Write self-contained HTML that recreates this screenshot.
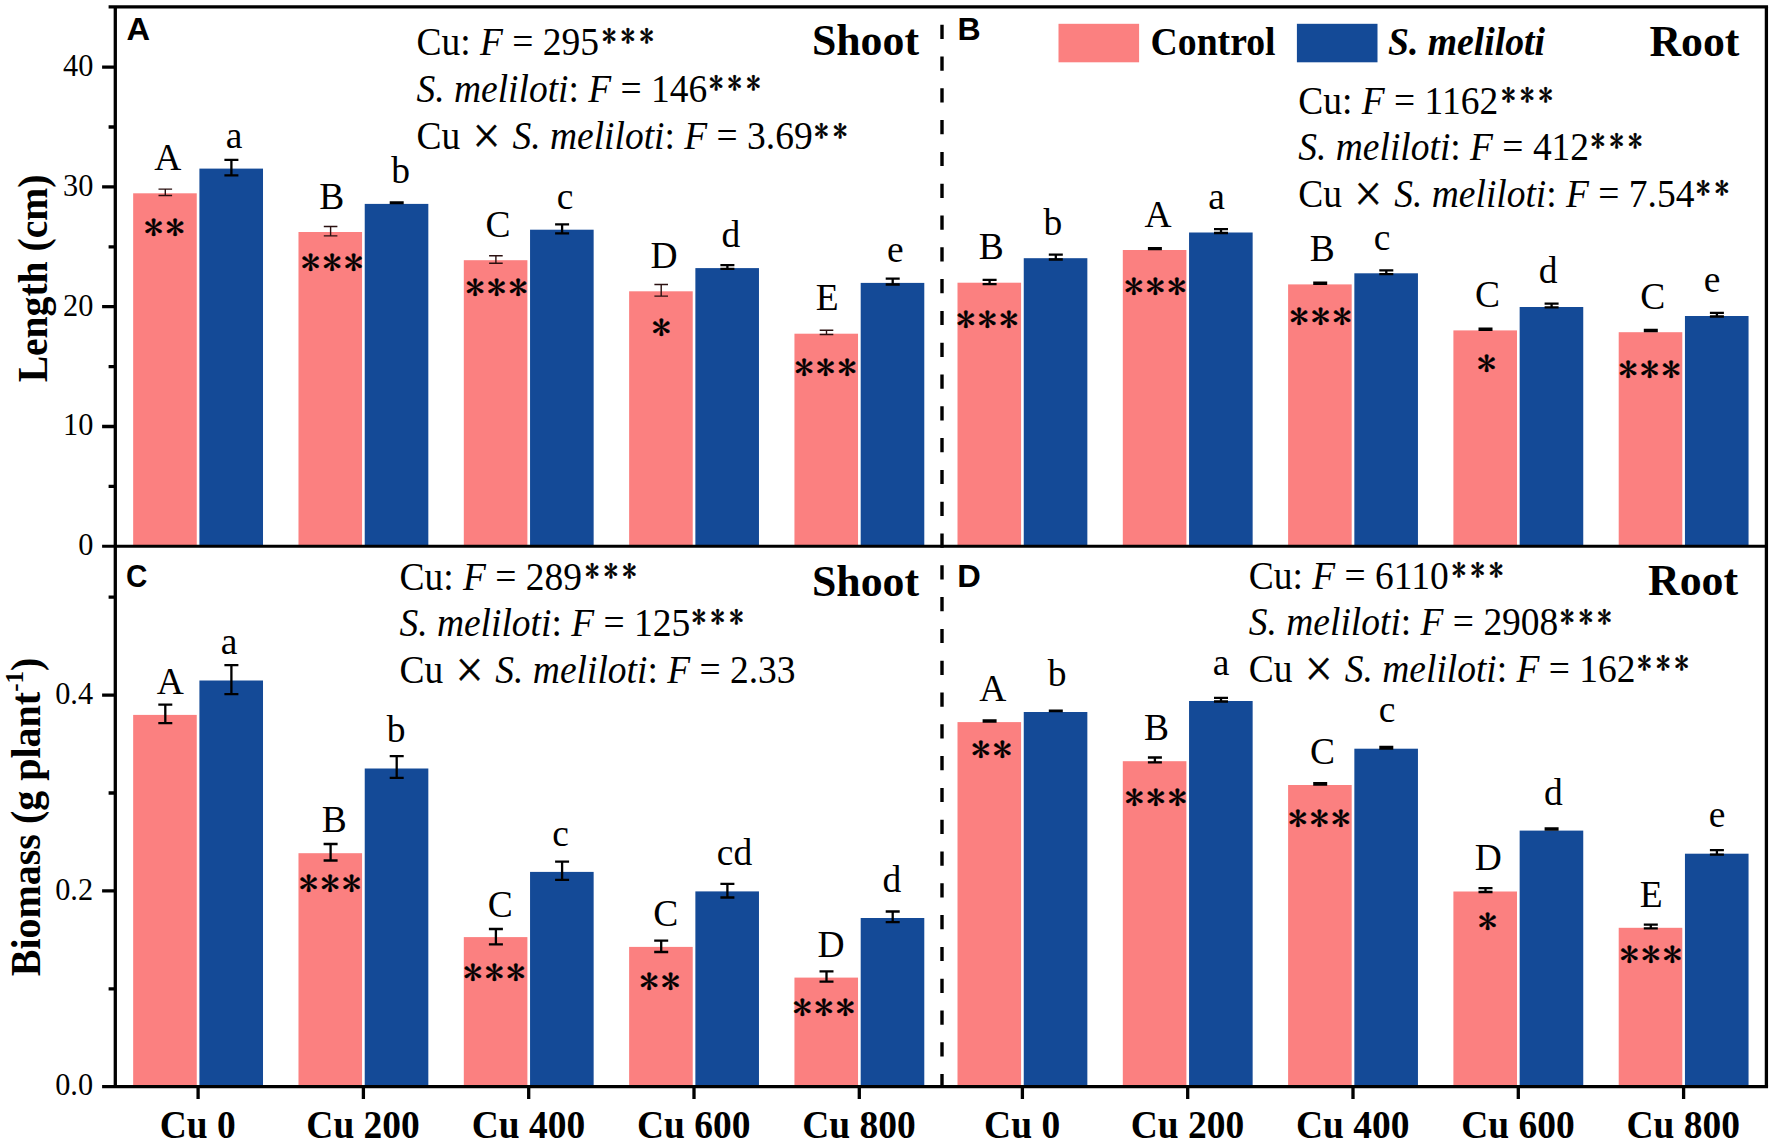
<!DOCTYPE html>
<html lang="en"><head><meta charset="utf-8"><title>Figure</title>
<style>html,body{margin:0;padding:0;background:#fff}svg{display:block}</style></head>
<body>
<svg width="1772" height="1145" viewBox="0 0 1772 1145">
<rect width="1772" height="1145" fill="#fff"/>
<rect x="133.16" y="193.3" width="63.6" height="353.0" fill="#FB8080"/>
<rect x="199.41" y="168.6" width="63.6" height="377.7" fill="#144A97"/>
<rect x="298.48" y="232.0" width="63.6" height="314.3" fill="#FB8080"/>
<rect x="364.73" y="203.9" width="63.6" height="342.4" fill="#144A97"/>
<rect x="463.80" y="260.2" width="63.6" height="286.1" fill="#FB8080"/>
<rect x="530.05" y="229.7" width="63.6" height="316.6" fill="#144A97"/>
<rect x="629.12" y="291.3" width="63.6" height="255.0" fill="#FB8080"/>
<rect x="695.37" y="268.1" width="63.6" height="278.2" fill="#144A97"/>
<rect x="794.44" y="333.7" width="63.6" height="212.6" fill="#FB8080"/>
<rect x="860.69" y="282.9" width="63.6" height="263.4" fill="#144A97"/>
<rect x="957.50" y="282.7" width="63.6" height="263.6" fill="#FB8080"/>
<rect x="1023.75" y="258.2" width="63.6" height="288.1" fill="#144A97"/>
<rect x="1122.80" y="250.0" width="63.6" height="296.3" fill="#FB8080"/>
<rect x="1189.05" y="232.5" width="63.6" height="313.8" fill="#144A97"/>
<rect x="1288.10" y="284.4" width="63.6" height="261.9" fill="#FB8080"/>
<rect x="1354.35" y="273.3" width="63.6" height="273.0" fill="#144A97"/>
<rect x="1453.40" y="330.4" width="63.6" height="215.9" fill="#FB8080"/>
<rect x="1519.65" y="307.0" width="63.6" height="239.3" fill="#144A97"/>
<rect x="1618.70" y="332.2" width="63.6" height="214.1" fill="#FB8080"/>
<rect x="1684.95" y="316.0" width="63.6" height="230.3" fill="#144A97"/>
<path d="M158.5 189.1H172.1M158.5 195.5H172.1M165.3 189.1V195.5" stroke="#2a1010" stroke-width="1.4" fill="none"/>
<path d="M224.4 159.9H238.4M224.4 175.4H238.4M231.4 159.9V175.4" stroke="#000" stroke-width="2.3" fill="none"/>
<path d="M323.8 226.5H337.4M323.8 235.9H337.4M330.6 226.5V235.9" stroke="#2a1010" stroke-width="1.4" fill="none"/>
<path d="M389.7 202.5H403.7M389.7 203.0H403.7M396.7 202.5V203.0" stroke="#000" stroke-width="2.3" fill="none"/>
<path d="M489.1 255.7H502.7M489.1 263.2H502.7M495.9 255.7V263.2" stroke="#2a1010" stroke-width="1.4" fill="none"/>
<path d="M555.1 224.4H569.1M555.1 233.4H569.1M562.1 224.4V233.4" stroke="#000" stroke-width="2.3" fill="none"/>
<path d="M654.4 284.5H668.0M654.4 296.1H668.0M661.2 284.5V296.1" stroke="#2a1010" stroke-width="1.4" fill="none"/>
<path d="M720.4 265.2H734.4M720.4 268.8H734.4M727.4 265.2V268.8" stroke="#000" stroke-width="2.3" fill="none"/>
<path d="M819.7 330.3H833.3M819.7 334.5H833.3M826.5 330.3V334.5" stroke="#2a1010" stroke-width="1.4" fill="none"/>
<path d="M885.7 278.7H899.7M885.7 284.5H899.7M892.7 278.7V284.5" stroke="#000" stroke-width="2.3" fill="none"/>
<path d="M982.6 279.8H996.6M982.6 284.1H996.6M989.6 279.8V284.1" stroke="#000" stroke-width="2.3" fill="none"/>
<path d="M1048.8 254.6H1062.8M1048.8 259.5H1062.8M1055.8 254.6V259.5" stroke="#000" stroke-width="2.3" fill="none"/>
<path d="M1147.9 248.2H1161.9M1147.9 249.0H1161.9M1154.9 248.2V249.0" stroke="#000" stroke-width="2.3" fill="none"/>
<path d="M1214.0 229.1H1228.0M1214.0 233.0H1228.0M1221.0 229.1V233.0" stroke="#000" stroke-width="2.3" fill="none"/>
<path d="M1313.2 282.6H1327.2M1313.2 283.8H1327.2M1320.2 282.6V283.8" stroke="#000" stroke-width="2.3" fill="none"/>
<path d="M1379.3 270.4H1393.3M1379.3 274.2H1393.3M1386.3 270.4V274.2" stroke="#000" stroke-width="2.3" fill="none"/>
<path d="M1478.5 328.6H1492.5M1478.5 329.8H1492.5M1485.5 328.6V329.8" stroke="#000" stroke-width="2.3" fill="none"/>
<path d="M1544.6 303.7H1558.6M1544.6 307.3H1558.6M1551.6 303.7V307.3" stroke="#000" stroke-width="2.3" fill="none"/>
<path d="M1643.8 329.9H1657.8M1643.8 331.2H1657.8M1650.8 329.9V331.2" stroke="#000" stroke-width="2.3" fill="none"/>
<path d="M1709.9 312.9H1723.9M1709.9 316.5H1723.9M1716.9 312.9V316.5" stroke="#000" stroke-width="2.3" fill="none"/>
<rect x="133.16" y="714.9" width="63.6" height="371.8" fill="#FB8080"/>
<rect x="199.41" y="680.5" width="63.6" height="406.2" fill="#144A97"/>
<rect x="298.48" y="853.2" width="63.6" height="233.5" fill="#FB8080"/>
<rect x="364.73" y="768.5" width="63.6" height="318.2" fill="#144A97"/>
<rect x="463.80" y="937.1" width="63.6" height="149.6" fill="#FB8080"/>
<rect x="530.05" y="871.9" width="63.6" height="214.8" fill="#144A97"/>
<rect x="629.12" y="946.9" width="63.6" height="139.8" fill="#FB8080"/>
<rect x="695.37" y="891.4" width="63.6" height="195.3" fill="#144A97"/>
<rect x="794.44" y="977.6" width="63.6" height="109.1" fill="#FB8080"/>
<rect x="860.69" y="918.0" width="63.6" height="168.7" fill="#144A97"/>
<rect x="957.50" y="722.1" width="63.6" height="364.6" fill="#FB8080"/>
<rect x="1023.75" y="712.0" width="63.6" height="374.7" fill="#144A97"/>
<rect x="1122.80" y="761.2" width="63.6" height="325.5" fill="#FB8080"/>
<rect x="1189.05" y="701.0" width="63.6" height="385.7" fill="#144A97"/>
<rect x="1288.10" y="785.0" width="63.6" height="301.7" fill="#FB8080"/>
<rect x="1354.35" y="748.7" width="63.6" height="338.0" fill="#144A97"/>
<rect x="1453.40" y="891.5" width="63.6" height="195.2" fill="#FB8080"/>
<rect x="1519.65" y="830.6" width="63.6" height="256.1" fill="#144A97"/>
<rect x="1618.70" y="927.8" width="63.6" height="158.9" fill="#FB8080"/>
<rect x="1684.95" y="853.7" width="63.6" height="233.0" fill="#144A97"/>
<path d="M158.3 704.7H172.3M158.3 723.1H172.3M165.3 704.7V723.1" stroke="#000" stroke-width="2.3" fill="none"/>
<path d="M224.4 665.2H238.4M224.4 694.1H238.4M231.4 665.2V694.1" stroke="#000" stroke-width="2.3" fill="none"/>
<path d="M323.6 844.0H337.6M323.6 860.5H337.6M330.6 844.0V860.5" stroke="#000" stroke-width="2.3" fill="none"/>
<path d="M389.7 756.1H403.7M389.7 777.9H403.7M396.7 756.1V777.9" stroke="#000" stroke-width="2.3" fill="none"/>
<path d="M488.9 929.0H502.9M488.9 944.3H502.9M495.9 929.0V944.3" stroke="#000" stroke-width="2.3" fill="none"/>
<path d="M555.1 861.7H569.1M555.1 879.9H569.1M562.1 861.7V879.9" stroke="#000" stroke-width="2.3" fill="none"/>
<path d="M654.2 940.6H668.2M654.2 952.0H668.2M661.2 940.6V952.0" stroke="#000" stroke-width="2.3" fill="none"/>
<path d="M720.4 883.9H734.4M720.4 897.5H734.4M727.4 883.9V897.5" stroke="#000" stroke-width="2.3" fill="none"/>
<path d="M819.5 971.4H833.5M819.5 981.7H833.5M826.5 971.4V981.7" stroke="#000" stroke-width="2.3" fill="none"/>
<path d="M885.7 911.5H899.7M885.7 922.1H899.7M892.7 911.5V922.1" stroke="#000" stroke-width="2.3" fill="none"/>
<path d="M982.6 720.4H996.6M982.6 721.5H996.6M989.6 720.4V721.5" stroke="#000" stroke-width="2.3" fill="none"/>
<path d="M1048.8 710.6H1062.8M1048.8 711.2H1062.8M1055.8 710.6V711.2" stroke="#000" stroke-width="2.3" fill="none"/>
<path d="M1147.9 757.5H1161.9M1147.9 762.3H1161.9M1154.9 757.5V762.3" stroke="#000" stroke-width="2.3" fill="none"/>
<path d="M1214.0 697.9H1228.0M1214.0 701.5H1228.0M1221.0 697.9V701.5" stroke="#000" stroke-width="2.3" fill="none"/>
<path d="M1313.2 783.1H1327.2M1313.2 784.6H1327.2M1320.2 783.1V784.6" stroke="#000" stroke-width="2.3" fill="none"/>
<path d="M1379.3 746.9H1393.3M1379.3 748.5H1393.3M1386.3 746.9V748.5" stroke="#000" stroke-width="2.3" fill="none"/>
<path d="M1478.5 888.1H1492.5M1478.5 892.0H1492.5M1485.5 888.1V892.0" stroke="#000" stroke-width="2.3" fill="none"/>
<path d="M1544.6 828.4H1558.6M1544.6 829.6H1558.6M1551.6 828.4V829.6" stroke="#000" stroke-width="2.3" fill="none"/>
<path d="M1643.8 924.7H1657.8M1643.8 928.3H1657.8M1650.8 924.7V928.3" stroke="#000" stroke-width="2.3" fill="none"/>
<path d="M1709.9 850.2H1723.9M1709.9 854.6H1723.9M1716.9 850.2V854.6" stroke="#000" stroke-width="2.3" fill="none"/>
<path d="M942.0 1074.1V1086.7M942.0 1042.3V1056.5M942.0 1010.5V1024.7M942.0 978.7V992.9M942.0 946.9V961.1M942.0 915.1V929.3M942.0 883.3V897.5M942.0 851.5V865.7M942.0 819.7V833.9M942.0 787.9V802.1M942.0 756.1V770.3M942.0 724.3V738.5M942.0 692.5V706.7M942.0 660.7V674.9M942.0 628.9V643.1M942.0 597.1V611.3M942.0 565.3V579.5M942.0 533.5V547.7M942.0 501.7V515.9M942.0 469.9V484.1M942.0 438.1V452.3M942.0 406.3V420.5M942.0 374.5V388.7M942.0 342.7V356.9M942.0 310.9V325.1M942.0 279.1V293.3M942.0 247.3V261.5M942.0 215.5V229.7M942.0 183.7V197.9M942.0 151.9V166.1M942.0 120.1V134.3M942.0 88.3V102.5M942.0 56.5V70.7M942.0 24.7V38.9M942.0 6.8V7.1" stroke="#000" stroke-width="3.4" fill="none"/>
<g stroke="#000" stroke-width="3.3" fill="none">
<path d="M108.6 6.8H1768.05"/>
<path d="M102.1 546.3H1766.4" stroke-width="3.0"/>
<path d="M102.1 1086.65H1768.05"/>
<path d="M115.3 6.8V1086.65"/>
<path d="M1766.4 6.8V1086.65"/>
<path d="M102.1 426.5H115.3M102.1 306.7H115.3M102.1 186.9H115.3M102.1 67.1H115.3M108.6 486.4H115.3M108.6 366.6H115.3M108.6 246.8H115.3M108.6 127.0H115.3M102.1 890.9H115.3M102.1 695.1H115.3M108.6 988.8H115.3M108.6 793.0H115.3M108.6 597.2H115.3M198.1 1086.65V1099.0M363.4 1086.65V1099.0M528.7 1086.65V1099.0M694.0 1086.65V1099.0M859.3 1086.65V1099.0M1022.4 1086.65V1099.0M1187.7 1086.65V1099.0M1353.0 1086.65V1099.0M1518.3 1086.65V1099.0M1683.6 1086.65V1099.0"/>
</g>
<g font-family="Liberation Serif, Times New Roman, serif" font-size="30.3" text-anchor="end" fill="#000">
<text transform="translate(93.40 555.10) scale(1.0 1.065)">0</text>
<text transform="translate(93.40 435.30) scale(1.0 1.065)">10</text>
<text transform="translate(93.40 315.50) scale(1.0 1.065)">20</text>
<text transform="translate(93.40 195.70) scale(1.0 1.065)">30</text>
<text transform="translate(93.40 75.90) scale(1.0 1.065)">40</text>
<text transform="translate(93.10 1095.45) scale(1.0 1.065)">0.0</text>
<text transform="translate(93.10 899.65) scale(1.0 1.065)">0.2</text>
<text transform="translate(93.10 703.85) scale(1.0 1.065)">0.4</text>
</g>
<g font-family="Liberation Serif, Times New Roman, serif" font-size="37.5" font-weight="bold" text-anchor="middle" fill="#000">
<text transform="translate(197.76 1138.00) scale(1.0 1.085)">Cu 0</text>
<text transform="translate(363.08 1138.00) scale(1.0 1.085)">Cu 200</text>
<text transform="translate(528.40 1138.00) scale(1.0 1.085)">Cu 400</text>
<text transform="translate(693.72 1138.00) scale(1.0 1.085)">Cu 600</text>
<text transform="translate(859.04 1138.00) scale(1.0 1.085)">Cu 800</text>
<text transform="translate(1022.10 1138.00) scale(1.0 1.085)">Cu 0</text>
<text transform="translate(1187.40 1138.00) scale(1.0 1.085)">Cu 200</text>
<text transform="translate(1352.70 1138.00) scale(1.0 1.085)">Cu 400</text>
<text transform="translate(1518.00 1138.00) scale(1.0 1.085)">Cu 600</text>
<text transform="translate(1683.30 1138.00) scale(1.0 1.085)">Cu 800</text>
</g>
<g font-family="Liberation Serif, Times New Roman, serif" font-weight="bold" text-anchor="middle" fill="#000">
<text transform="translate(47.40 278.50) rotate(-90) scale(1.0 1.04)" font-size="39.6">Length (cm)</text>
<text transform="translate(40.30 817.00) rotate(-90) scale(1.0 1.04)" font-size="40">Biomass (g plant<tspan font-size="25" dy="-17">-1</tspan><tspan dy="17">)</tspan></text>
</g>
<g font-family="Liberation Sans, Arial, sans-serif" font-size="30.5" font-weight="bold" fill="#000">
<text transform="translate(126.60 39.70) scale(1.07 1.0)">A</text>
<text transform="translate(957.40 39.80) scale(1.05 1.0)">B</text>
<text transform="translate(126.00 586.90) scale(0.97 1.0)">C</text>
<text transform="translate(957.30 586.60) scale(1.07 1.0)">D</text>
</g>
<g font-family="Liberation Serif, Times New Roman, serif" font-size="43.8" font-weight="bold" fill="#000">
<text transform="translate(811.90 54.60)">Shoot</text>
<text transform="translate(1649.40 56.40)">Root</text>
<text transform="translate(812.00 596.00)">Shoot</text>
<text transform="translate(1648.00 594.90)">Root</text>
</g>
<rect x="1058.5" y="23.8" width="80.6" height="38.5" fill="#FB8080"/>
<rect x="1296.9" y="23.8" width="80.6" height="38.5" fill="#144A97"/>
<g font-family="Liberation Serif, Times New Roman, serif" font-size="37.7" font-weight="bold" fill="#000">
<text transform="translate(1150.60 54.60) scale(1.0 1.05)">Control</text>
<text transform="translate(1388.00 54.60) scale(1.0 1.05)" font-style="italic">S. meliloti</text>
</g>
<g font-family="Liberation Serif, Times New Roman, serif" font-size="37.5" fill="#000">
<text transform="translate(416.50 55.10) scale(1.0 1.06)">Cu: <tspan font-style="italic">F</tspan> = 295<tspan font-family="IPAGothic, 'Liberation Serif', serif" font-size="28.5" dx="3.0" dy="-7.2" letter-spacing="4.45" stroke="#000" stroke-width="0.5">***</tspan></text>
<text transform="translate(416.50 102.10) scale(1.0 1.06)"><tspan font-style="italic">S. meliloti</tspan>: <tspan font-style="italic">F</tspan> = 146<tspan font-family="IPAGothic, 'Liberation Serif', serif" font-size="28.5" dx="1.6" dy="-7.2" letter-spacing="4.45" stroke="#000" stroke-width="0.5">***</tspan></text>
<text transform="translate(416.50 149.30) scale(1.0 1.06)">Cu <tspan font-family="IPAGothic, 'Liberation Serif', serif" font-size="32" dx="0.9" stroke="#000" stroke-width="0.5">×</tspan><tspan dx="0.6"> </tspan><tspan font-style="italic">S. meliloti</tspan>: <tspan font-style="italic">F</tspan> = 3.69<tspan font-family="IPAGothic, 'Liberation Serif', serif" font-size="28.5" dx="1.6" dy="-7.2" letter-spacing="4.45" stroke="#000" stroke-width="0.5">**</tspan></text>
</g>
<g font-family="Liberation Serif, Times New Roman, serif" font-size="37.5" fill="#000">
<text transform="translate(1298.30 114.00) scale(1.0 1.06)">Cu: <tspan font-style="italic">F</tspan> = 1162<tspan font-family="IPAGothic, 'Liberation Serif', serif" font-size="28.5" dx="3.0" dy="-7.2" letter-spacing="4.45" stroke="#000" stroke-width="0.5">***</tspan></text>
<text transform="translate(1298.30 159.90) scale(1.0 1.06)"><tspan font-style="italic">S. meliloti</tspan>: <tspan font-style="italic">F</tspan> = 412<tspan font-family="IPAGothic, 'Liberation Serif', serif" font-size="28.5" dx="1.6" dy="-7.2" letter-spacing="4.45" stroke="#000" stroke-width="0.5">***</tspan></text>
<text transform="translate(1298.30 207.10) scale(1.0 1.06)">Cu <tspan font-family="IPAGothic, 'Liberation Serif', serif" font-size="32" dx="0.9" stroke="#000" stroke-width="0.5">×</tspan><tspan dx="0.6"> </tspan><tspan font-style="italic">S. meliloti</tspan>: <tspan font-style="italic">F</tspan> = 7.54<tspan font-family="IPAGothic, 'Liberation Serif', serif" font-size="28.5" dx="1.6" dy="-7.2" letter-spacing="4.45" stroke="#000" stroke-width="0.5">**</tspan></text>
</g>
<g font-family="Liberation Serif, Times New Roman, serif" font-size="37.5" fill="#000">
<text transform="translate(399.40 589.50) scale(1.0 1.06)">Cu: <tspan font-style="italic">F</tspan> = 289<tspan font-family="IPAGothic, 'Liberation Serif', serif" font-size="28.5" dx="3.0" dy="-7.2" letter-spacing="4.45" stroke="#000" stroke-width="0.5">***</tspan></text>
<text transform="translate(399.40 636.10) scale(1.0 1.06)"><tspan font-style="italic">S. meliloti</tspan>: <tspan font-style="italic">F</tspan> = 125<tspan font-family="IPAGothic, 'Liberation Serif', serif" font-size="28.5" dx="1.6" dy="-7.2" letter-spacing="4.45" stroke="#000" stroke-width="0.5">***</tspan></text>
<text transform="translate(399.40 682.80) scale(1.0 1.06)">Cu <tspan font-family="IPAGothic, 'Liberation Serif', serif" font-size="32" dx="0.9" stroke="#000" stroke-width="0.5">×</tspan><tspan dx="0.6"> </tspan><tspan font-style="italic">S. meliloti</tspan>: <tspan font-style="italic">F</tspan> = 2.33</text>
</g>
<g font-family="Liberation Serif, Times New Roman, serif" font-size="37.5" fill="#000">
<text transform="translate(1248.80 588.50) scale(1.0 1.06)">Cu: <tspan font-style="italic">F</tspan> = 6110<tspan font-family="IPAGothic, 'Liberation Serif', serif" font-size="28.5" dx="3.0" dy="-7.2" letter-spacing="4.45" stroke="#000" stroke-width="0.5">***</tspan></text>
<text transform="translate(1248.80 635.40) scale(1.0 1.06)"><tspan font-style="italic">S. meliloti</tspan>: <tspan font-style="italic">F</tspan> = 2908<tspan font-family="IPAGothic, 'Liberation Serif', serif" font-size="28.5" dx="1.6" dy="-7.2" letter-spacing="4.45" stroke="#000" stroke-width="0.5">***</tspan></text>
<text transform="translate(1248.80 681.80) scale(1.0 1.06)">Cu <tspan font-family="IPAGothic, 'Liberation Serif', serif" font-size="32" dx="0.9" stroke="#000" stroke-width="0.5">×</tspan><tspan dx="0.6"> </tspan><tspan font-style="italic">S. meliloti</tspan>: <tspan font-style="italic">F</tspan> = 162<tspan font-family="IPAGothic, 'Liberation Serif', serif" font-size="28.5" dx="1.6" dy="-7.2" letter-spacing="4.45" stroke="#000" stroke-width="0.5">***</tspan></text>
</g>
<g font-family="Liberation Serif, Times New Roman, serif" font-size="37.5" text-anchor="middle" fill="#000">
<text x="167.8" y="170.2">A</text>
<text x="234.1" y="148.3">a</text>
<text x="331.8" y="208.5">B</text>
<text x="400.5" y="183.2">b</text>
<text x="497.9" y="236.7">C</text>
<text x="565" y="209.2">c</text>
<text x="664" y="267.8">D</text>
<text x="730.8" y="247">d</text>
<text x="827.3" y="309.8">E</text>
<text x="895.4" y="261.7">e</text>
<text x="991.3" y="259.4">B</text>
<text x="1052.8" y="234.5">b</text>
<text x="1158.1" y="226.5">A</text>
<text x="1216.5" y="209.3">a</text>
<text x="1322.2" y="260.6">B</text>
<text x="1382" y="249.8">c</text>
<text x="1487.6" y="307">C</text>
<text x="1548.2" y="283.4">d</text>
<text x="1652.7" y="308.8">C</text>
<text x="1712" y="291.8">e</text>
<text x="170.3" y="694.1">A</text>
<text x="229" y="654">a</text>
<text x="334.2" y="832">B</text>
<text x="396" y="742.1">b</text>
<text x="500.2" y="916.6">C</text>
<text x="560.5" y="846">c</text>
<text x="665.7" y="926">C</text>
<text x="734.5" y="865.2">cd</text>
<text x="831.1" y="956.6">D</text>
<text x="891.8" y="891.7">d</text>
<text x="992.8" y="701">A</text>
<text x="1057" y="686">b</text>
<text x="1156.4" y="739.6">B</text>
<text x="1221" y="674.6">a</text>
<text x="1322.6" y="764.4">C</text>
<text x="1387.1" y="722.4">c</text>
<text x="1488.3" y="870.4">D</text>
<text x="1553.3" y="804.7">d</text>
<text x="1651.2" y="906.9">E</text>
<text x="1717.2" y="826.5">e</text>
</g>
<g font-family="IPAGothic, 'Liberation Serif', serif" font-size="35.4" fill="#000" stroke="#000" stroke-width="0.4">
<text transform="translate(164.3 240.18) scale(1.08 1)" x="-18.80 1.10">**</text>
<text transform="translate(332 275.08) scale(1.08 1)" x="-28.76 -8.85 11.06">***</text>
<text transform="translate(496.5 300.38) scale(1.08 1)" x="-28.76 -8.85 11.06">***</text>
<text transform="translate(661.2 339.78) scale(1.08 1)" x="-8.85">*</text>
<text transform="translate(825.6 380.18) scale(1.08 1)" x="-28.76 -8.85 11.06">***</text>
<text transform="translate(987.3 332.28) scale(1.08 1)" x="-28.76 -8.85 11.06">***</text>
<text transform="translate(1155.2 299.08) scale(1.08 1)" x="-28.76 -8.85 11.06">***</text>
<text transform="translate(1320.6 329.18) scale(1.08 1)" x="-28.76 -8.85 11.06">***</text>
<text transform="translate(1486.6 375.88) scale(1.08 1)" x="-8.85">*</text>
<text transform="translate(1649.5 382.08) scale(1.08 1)" x="-28.76 -8.85 11.06">***</text>
<text transform="translate(330 895.88) scale(1.08 1)" x="-28.76 -8.85 11.06">***</text>
<text transform="translate(494.3 984.78) scale(1.08 1)" x="-28.76 -8.85 11.06">***</text>
<text transform="translate(659.7 993.78) scale(1.08 1)" x="-18.80 1.10">**</text>
<text transform="translate(823.9 1020.18) scale(1.08 1)" x="-28.76 -8.85 11.06">***</text>
<text transform="translate(991.5 762.28) scale(1.08 1)" x="-18.80 1.10">**</text>
<text transform="translate(1155.8 809.98) scale(1.08 1)" x="-28.76 -8.85 11.06">***</text>
<text transform="translate(1319.2 831.48) scale(1.08 1)" x="-28.76 -8.85 11.06">***</text>
<text transform="translate(1487.6 933.78) scale(1.08 1)" x="-8.85">*</text>
<text transform="translate(1650.8 966.68) scale(1.08 1)" x="-28.76 -8.85 11.06">***</text>
</g>
</svg>
</body></html>
